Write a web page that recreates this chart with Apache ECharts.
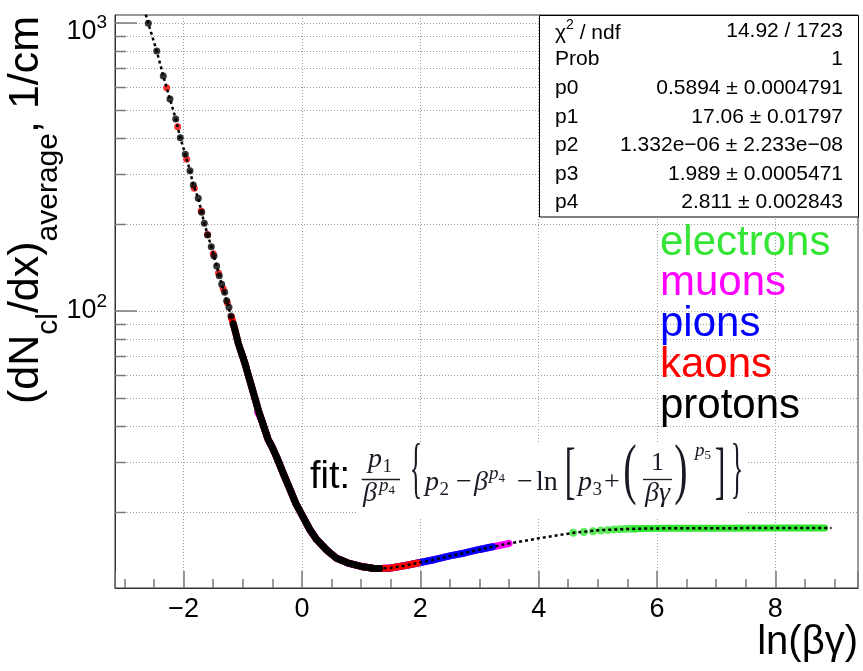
<!DOCTYPE html>
<html>
<head>
<meta charset="utf-8">
<script src="https://cdn.jsdelivr.net/npm/echarts@6.0.0/dist/echarts.min.js"></script>
<style>
html,body{margin:0;padding:0;background:#fff;}
#c{width:863px;height:671px;}
</style>
</head>
<body>
<div id="c"></div>
<script>
// ---------------- data ----------------
// x = ln(beta*gamma), y = (dN_cl/dx)_average in 1/cm
const protonX = [-2.596, -2.454, -2.343, -2.230, -2.133, -2.056, -1.971, -1.892, -1.836, -1.752, -1.694, -1.650, -1.593, -1.532, -1.486, -1.441, -1.397, -1.356, -1.306, -1.272, -1.233, -1.199, -1.160, -1.127, -1.076, -1.019, -0.963, -0.907, -0.850, -0.794, -0.738, -0.681, -0.625, -0.569, -0.512, -0.427, -0.316, -0.200, -0.100, 0.000, 0.135, 0.248, 0.417, 0.586, 0.800, 1.000, 1.200, 1.317];
const protonY = [997.6, 799.2, 654.6, 544.6, 464.2, 399.6, 350.1, 307.0, 273.8, 246.2, 220.2, 201.6, 183.6, 167.3, 155.3, 143.3, 132.6, 123.8, 116.1, 108.6, 103.0, 96.1, 90.1, 85.2, 77.2, 71.3, 65.8, 59.9, 54.6, 49.8, 45.3, 41.8, 38.6, 35.7, 34.0, 31.1, 27.3, 24.0, 21.4, 19.6, 17.4, 16.1, 14.8, 13.84, 13.29, 12.97, 12.79, 12.77];

const kaonX = [-2.285, -2.100, -1.948, -1.819, -1.703, -1.596, -1.498, -1.410, -1.330, -1.260, -1.190, -1.127, -1.076, -1.019, -0.963, -0.907, -0.850, -0.794, -0.738, -0.681, -0.625, -0.569, -0.512, -0.427, -0.316, -0.200, -0.100, 0.000, 0.135, 0.248, 0.417, 0.586, 0.800, 1.000, 1.200, 1.350, 1.500, 1.750, 1.958];
const kaonY = [596.3, 436.4, 336.3, 266.7, 222.5, 184.5, 158.0, 135.5, 119.5, 106.8, 95.0, 85.2, 77.2, 71.3, 65.8, 59.9, 54.6, 49.8, 45.3, 41.8, 38.6, 35.7, 34.0, 31.1, 27.3, 24.0, 21.4, 19.6, 17.4, 16.1, 14.8, 13.84, 13.29, 12.97, 12.79, 12.77, 12.82, 13.07, 13.33];

const pionX = [-1.027, -0.963, -0.907, -0.850, -0.794, -0.738, -0.681, -0.625, -0.569, -0.512, -0.427, -0.316, -0.200, -0.100, 0.000, 0.135, 0.248, 0.417, 0.586, 0.800, 1.000, 1.200, 1.350, 1.500, 1.750, 2.000, 2.250, 2.500, 2.750, 3.000, 3.222];
const pionY = [72.1, 65.8, 59.9, 54.6, 49.8, 45.3, 41.8, 38.6, 35.7, 34.0, 31.1, 27.3, 24.0, 21.4, 19.6, 17.4, 16.1, 14.8, 13.84, 13.29, 12.97, 12.79, 12.77, 12.82, 13.07, 13.39, 13.72, 14.11, 14.45, 14.86, 15.18];

const muonX = [-0.748, -0.681, -0.625, -0.569, -0.512, -0.427, -0.316, -0.200, -0.100, 0.000, 0.135, 0.248, 0.417, 0.586, 0.800, 1.000, 1.200, 1.350, 1.500, 1.750, 2.000, 2.250, 2.500, 2.750, 3.000, 3.250, 3.501];
const muonY = [44.5, 41.8, 38.6, 35.7, 34.0, 31.1, 27.3, 24.0, 21.4, 19.6, 17.4, 16.1, 14.8, 13.84, 13.29, 12.97, 12.79, 12.77, 12.82, 13.07, 13.39, 13.72, 14.11, 14.45, 14.86, 15.22, 15.59];

const electronX = [4.584, 4.766, 4.920, 5.053, 5.171, 5.276, 5.372, 5.459, 5.539, 5.613, 5.800, 6.200, 7.000, 8.000, 8.833];
const electronY = [16.99, 17.08, 17.20, 17.29, 17.36, 17.42, 17.46, 17.50, 17.53, 17.55, 17.57, 17.60, 17.62, 17.63, 17.63];

const fitX = [-2.640, -2.596, -2.454, -2.343, -2.230, -2.133, -2.056, -1.971, -1.892, -1.836, -1.752, -1.650, -1.532, -1.441, -1.356, -1.272, -1.199, -1.127, -1.019, -0.907, -0.794, -0.681, -0.569, -0.512, -0.427, -0.316, -0.200, -0.100, 0.000, 0.135, 0.248, 0.417, 0.586, 0.800, 1.000, 1.200, 1.350, 1.500, 1.750, 2.000, 2.250, 2.500, 2.750, 3.000, 3.250, 3.500, 3.750, 4.000, 4.300, 4.600, 5.000, 5.400, 5.800, 6.200, 7.000, 8.000, 8.950];
const fitY = [1070, 997.6, 799.2, 654.6, 544.6, 464.2, 399.6, 350.1, 307.0, 273.8, 246.2, 201.6, 167.3, 143.3, 123.8, 108.6, 96.1, 85.2, 71.3, 59.9, 49.8, 41.8, 35.7, 34.0, 31.1, 27.3, 24.0, 21.4, 19.6, 17.4, 16.1, 14.8, 13.84, 13.29, 12.97, 12.79, 12.77, 12.82, 13.07, 13.39, 13.72, 14.11, 14.45, 14.86, 15.22, 15.59, 15.90, 16.25, 16.62, 16.99, 17.32, 17.47, 17.57, 17.60, 17.62, 17.63, 17.63];

// axes
const X_MIN = -3.159, X_MAX = 9.397;
const Y_MIN = 10.92, Y_MAX = 1066;
const yMinorValues = [20, 30, 40, 50, 60, 70, 80, 90, 200, 300, 400, 500, 600, 700, 800, 900];
const yDecadeLabels = {100: '{b|10}{s|2}', 1000: '{c|10}{t|3}'};

// legend
const particleNames = ['electrons', 'muons', 'pions', 'kaons', 'protons'];
const particleColors = ['#33e633', '#ff00ff', '#0000ff', '#ff0000', '#000000'];

// fit statistics box
const statLabels = ['χ2 / ndf', 'Prob', 'p0', 'p1', 'p2', 'p3', 'p4'];
const statValues = ['14.92 / 1723', '1', '0.5894 ± 0.0004791', '17.06 ± 0.01797', '1.332e\u221206 ± 2.233e\u221208', '1.989 ± 0.0005471', '2.811 ± 0.002843'];

// ---------------- chart ----------------
const SANS = "'Liberation Sans', Arial, Helvetica, sans-serif";
const SERIF = "'Liberation Serif', 'Times New Roman', serif";
const FCOL = '#1a1a24';

function pairs(xs, ys) { return xs.map((x, i) => [x, ys[i]]); }

function speciesSeries(name, xs, ys, color, bandFrom, dotSize) {
  const pts = pairs(xs, ys);
  let i0 = xs.findIndex(x => x >= bandFrom);
  if (i0 < 0) i0 = xs.length;
  const dots = pts.slice(0, i0);
  const band = pts.slice(Math.max(0, i0 - 1));
  return [
    {type: 'line', name: name, data: band, showSymbol: false, symbol: 'none', silent: true, z: 3,
     lineStyle: {color: color, width: 7, cap: 'round', join: 'round'}},
    {type: 'scatter', name: name, data: dots, symbol: 'circle', symbolSize: dotSize, silent: true, z: 3,
     itemStyle: {color: color}}
  ];
}

const series = [];
// minor gridlines and ticks of the log y axis
series.push({
  type: 'custom', silent: true, z: 1,
  data: yMinorValues.map(v => [X_MIN, v]),
  encode: {x: 0, y: 1},
  renderItem: function (params, api) {
    const y = Math.round(api.coord([api.value(0), api.value(1)])[1]) + 0.5;
    const cs = params.coordSys;
    return {type: 'group', children: [
      {type: 'line', shape: {x1: cs.x, y1: y, x2: cs.x + cs.width, y2: y},
       style: {stroke: '#9c9c9c', lineWidth: 1, lineDash: [1, 2]}},
      {type: 'line', shape: {x1: cs.x, y1: y, x2: cs.x + 11, y2: y},
       style: {stroke: '#7a7a7a', lineWidth: 1.5}}
    ]};
  }
});
series.push(...speciesSeries('electrons', electronX, electronY, particleColors[0], 5.7, 8));
series.push(...speciesSeries('muons', muonX, muonY, particleColors[1], -99, 7));
series.push(...speciesSeries('pions', pionX, pionY, particleColors[2], -99, 7));
series.push(...speciesSeries('kaons', kaonX, kaonY, particleColors[3], -1.13, 7));
series.push(...speciesSeries('protons', protonX, protonY, particleColors[4], -1.13, 7));
series.push({
  type: 'line', name: 'fit', data: pairs(fitX, fitY), showSymbol: false, symbol: 'none', silent: true, z: 5,
  lineStyle: {color: '#000', width: 2.5, type: [3, 3]}
});

// ---------- graphic texts ----------
function txt(text, x, y, size, extra) {
  const st = Object.assign({text: text, fontSize: size, fontFamily: SANS, fill: '#000', align: 'left', verticalAlign: 'middle'}, extra || {});
  return {type: 'text', x: x, y: y, z: 20, silent: true, style: st};
}
function mt(text, x, baseline, size, italic, align) {
  return {type: 'text', x: x, y: baseline - 0.34 * size, z: 20, silent: true,
    style: {text: text, fontSize: size, fontFamily: SERIF, fontStyle: italic ? 'italic' : 'normal', fill: FCOL,
      align: align || 'left', verticalAlign: 'middle'}};
}
function delim(text, cx, cy, sx, sy) {
  return {type: 'text', x: cx, y: cy - 0.1 * 40 * sy, scaleX: sx, scaleY: sy, z: 20, silent: true,
    style: {text: text, fontSize: 40, fontFamily: SERIF, fill: FCOL, align: 'center', verticalAlign: 'middle'}};
}
function bar(x1, x2, y) {
  return {type: 'line', z: 20, silent: true, shape: {x1: x1, y1: y, x2: x2, y2: y}, style: {stroke: FCOL, lineWidth: 1.3}};
}

const graphics = [];
// white backgrounds of the fit-formula text
graphics.push({type: 'rect', z: 1.5, silent: true, shape: {x: 303, y: 459, width: 53, height: 51}, style: {fill: '#fff'}});
graphics.push({type: 'rect', z: 1.5, silent: true, shape: {x: 356, y: 443, width: 390, height: 74}, style: {fill: '#fff'}});

// fit formula
graphics.push(txt('fit:', 310, 478, 38));
graphics.push(mt('p', 368, 469, 28, true), mt('1', 382.5, 473, 19, false));
graphics.push(bar(361.7, 400, 479.5));
graphics.push(mt('β', 363, 503, 28, true), mt('p', 379, 492, 19, true), mt('4', 388.5, 495, 13, false));
graphics.push(delim('{', 416, 479, 0.65, 1.7));
graphics.push(mt('p', 425, 492, 28, true), mt('2', 439.5, 496, 19, false));
graphics.push(mt('\u2212', 456, 492, 28, false));
graphics.push(mt('β', 474, 492, 28, true), mt('p', 489, 480, 19, true), mt('4', 498.5, 483, 13, false));
graphics.push(mt('\u2212', 517, 492, 28, false));
graphics.push(mt('ln', 536, 492, 28, false));
graphics.push(delim('[', 570, 481, 0.8, 1.6));
graphics.push(mt('p', 578, 492, 28, true), mt('3', 592.5, 496, 19, false));
graphics.push(mt('+', 604, 492, 28, false));
graphics.push(delim('(', 630, 480, 1.0, 1.67));
graphics.push(mt('1', 657.5, 472, 26, false, 'center'));
graphics.push(bar(643, 672, 479.5));
graphics.push(mt('βγ', 657.5, 503, 28, true, 'center'));
graphics.push(delim(')', 681, 480, 1.0, 1.67));
graphics.push(mt('p', 695, 457, 19, true), mt('5', 704.5, 460, 13, false));
graphics.push(delim(']', 720, 481, 0.8, 1.6));
graphics.push(delim('}', 737, 479, 0.65, 1.7));

// stats box
graphics.push({type: 'rect', z: 10, silent: true, shape: {x: 539.5, y: 15.5, width: 319, height: 201.5},
  style: {fill: '#fff', stroke: '#000', lineWidth: 1}});
statLabels.forEach((lab, i) => {
  const yc = 31 + 28.6 * i;
  if (i === 0) {
    graphics.push({type: 'text', x: 555, y: yc, z: 20, silent: true, style: {
      text: '{a|χ}{u|2}{a| / ndf}', align: 'left', verticalAlign: 'middle',
      rich: {a: {fontSize: 21, lineHeight: 26, verticalAlign: 'bottom', fontFamily: SANS, fill: '#000'},
             u: {fontSize: 14, lineHeight: 13, verticalAlign: 'top', fontFamily: SANS, fill: '#000'}}}});
  } else {
    graphics.push(txt(lab, 555, yc, 21));
  }
  graphics.push(txt(statValues[i], 843, yc, 21, {align: 'right'}));
});

// particle legend texts
particleNames.forEach((n, i) => {
  graphics.push(txt(n, 660, 258 + 40.8 * i - 15, 42, {fill: particleColors[i]}));
});

// axis titles
graphics.push(txt('ln(βγ)', 858, 643, 40, {align: 'right'}));
graphics.push({type: 'text', x: 26, y: 210, rotation: Math.PI / 2, z: 20, silent: true, style: {
  text: '{m|(dN}{s|cl}{m|/dx)}{s|average}{m|, 1/cm}', align: 'center', verticalAlign: 'middle',
  rich: {m: {fontSize: 43, lineHeight: 76, verticalAlign: 'middle', fontFamily: SANS, fill: '#000'},
         s: {fontSize: 30, lineHeight: 30, verticalAlign: 'bottom', fontFamily: SANS, fill: '#000'}}}});

const option = {
  animation: false,
  backgroundColor: '#fff',
  grid: {left: 115, right: 5, top: 15, bottom: 83, show: true, borderColor: '#333', borderWidth: 1, backgroundColor: 'transparent'},
  xAxis: {
    type: 'value', min: X_MIN, max: X_MAX, splitNumber: 6, minInterval: 2, maxInterval: 2,
    axisLine: {show: true, onZero: false, lineStyle: {color: '#333', width: 1}},
    axisTick: {show: true, inside: true, length: 17, lineStyle: {color: '#7a7a7a', width: 1.5}},
    minorTick: {show: true, splitNumber: 4, length: 9, lineStyle: {color: '#7a7a7a', width: 1.5}},
    splitLine: {show: true, lineStyle: {color: '#9c9c9c', width: 1, type: [1, 2]}},
    axisLabel: {show: true, showMinLabel: false, showMaxLabel: false, margin: 8, fontSize: 27, fontFamily: SANS, color: '#000',
      formatter: v => (v < 0 ? '\u2212' + Math.abs(v) : String(v))}
  },
  yAxis: {
    type: 'log', logBase: 10, min: Y_MIN, max: Y_MAX,
    axisLine: {show: true, onZero: false, lineStyle: {color: '#333', width: 1}},
    axisTick: {show: true, inside: true, length: 22, lineStyle: {color: '#7a7a7a', width: 1.5}},
    splitLine: {show: true, lineStyle: {color: '#9c9c9c', width: 1, type: [1, 2]}},
    axisLabel: {show: true, showMinLabel: false, showMaxLabel: false, margin: 8,
      formatter: v => yDecadeLabels[Math.round(v)] || '',
      rich: {b: {fontSize: 27, lineHeight: 38, verticalAlign: 'middle', fontFamily: SANS, color: '#000'},
             s: {fontSize: 19, lineHeight: 19, verticalAlign: 'top', fontFamily: SANS, color: '#000'},
             c: {fontSize: 27, lineHeight: 44, verticalAlign: 'bottom', fontFamily: SANS, color: '#000'},
             t: {fontSize: 19, lineHeight: 19, verticalAlign: 'middle', fontFamily: SANS, color: '#000'}}}
  },
  series: series,
  graphic: {elements: graphics}
};

const chart = echarts.init(document.getElementById('c'), null, {renderer: 'canvas'});
chart.setOption(option);
</script>
</body>
</html>
